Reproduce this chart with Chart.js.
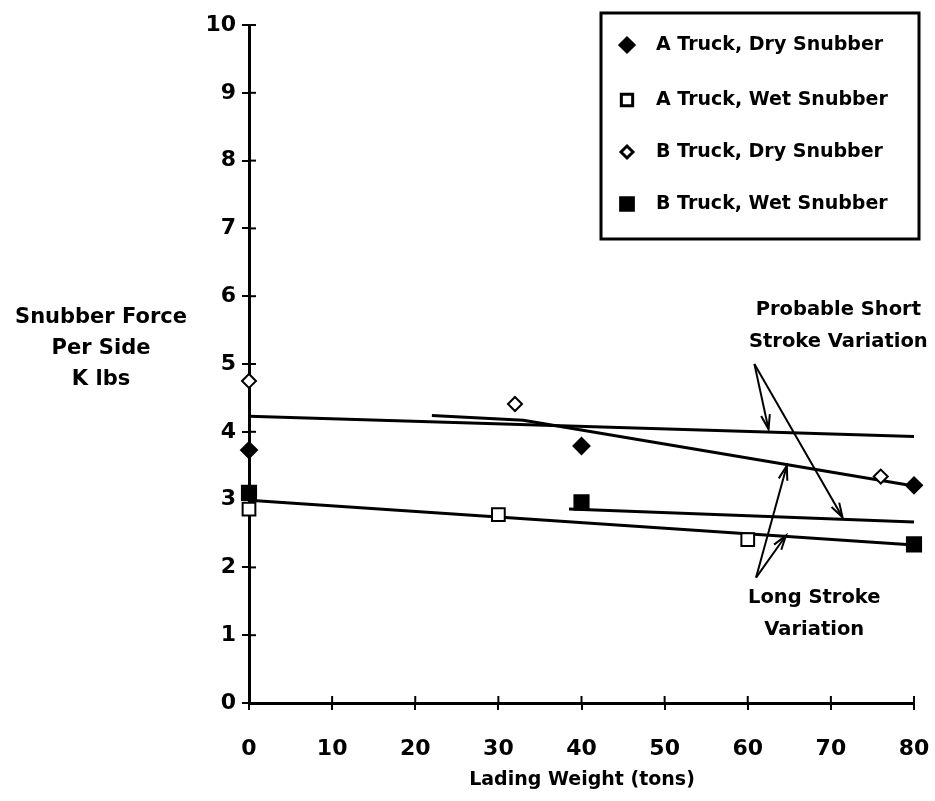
<!DOCTYPE html>
<html>
<head>
<meta charset="utf-8">
<script src="https://cdn.jsdelivr.net/npm/chart.js@4/dist/chart.umd.min.js"></script>
<style>
  body { margin: 0; background: #fff; }
  #wrap { width: 935px; height: 801px; position: relative; }
</style>
</head>
<body>
<div id="wrap"><canvas id="snubberChart"></canvas></div>
<script>
// measured points (lading weight in tons, snubber force in k lbs)
var aDryX = [0, 40, 80];
var aDryY = [3.73, 3.79, 3.21];
var aWetX = [0, 30, 60];
var aWetY = [2.86, 2.78, 2.41];
var bDryX = [0, 32, 76];
var bDryY = [4.75, 4.41, 3.34];
var bWetX = [0, 40, 80];
var bWetY = [3.1, 2.96, 2.34];

// hand fitted trend lines
var shortLine1X = [0, 80];
var shortLine1Y = [4.23, 3.93];
var shortLine2X = [22, 33, 80];
var shortLine2Y = [4.24, 4.17, 3.2];
var longLine1X = [0, 80];
var longLine1Y = [2.99, 2.33];
var longLine2X = [38.5, 80];
var longLine2Y = [2.86, 2.67];

// axis ticks
var xTicks = [0, 10, 20, 30, 40, 50, 60, 70, 80];
var yTicks = [0, 1, 2, 3, 4, 5, 6, 7, 8, 9, 10];

// callouts: [fromX, fromY, toX, toY]
var shortArrows = [[60.8, 5.0, 62.5, 4.04], [60.8, 5.0, 71.4, 2.74]];
var longArrows = [[61.0, 1.85, 64.7, 3.5], [61.0, 1.85, 64.6, 2.47]];
// callout text: [x, y, text]
var notes = [
  [70.9, 5.8, "Probable Short"],
  [70.9, 5.33, "Stroke Variation"],
  [68.0, 1.55, "Long Stroke"],
  [68.0, 1.08, "Variation"]
];

function font(size) { return "bold " + size + "px 'DejaVu Sans'"; }

function pts(xs, ys) {
  return xs.map(function (x, i) { return { x: x, y: ys[i] }; });
}

function markerSet(label, xs, ys, style, fill, r, legendR) {
  return {
    type: 'scatter',
    label: label,
    data: pts(xs, ys),
    pointStyle: style,
    pointRadius: r,
    legendRadius: legendR,
    backgroundColor: fill,
    borderColor: '#000',
    pointBorderWidth: 2,
    clip: false,
    order: 0
  };
}

function lineSet(xs, ys) {
  return {
    type: 'line',
    data: pts(xs, ys),
    showLine: true,
    pointRadius: 0,
    borderColor: '#000',
    borderWidth: 3,
    fill: false,
    clip: false,
    order: 1
  };
}

// y axis title, x axis title, callouts, inner tick halves, legend box
var extras = {
  id: 'extras',
  afterDraw: function (chart) {
    var ctx = chart.ctx;
    var xs = chart.scales.x, ys = chart.scales.y;
    var area = chart.chartArea;
    ctx.save();
    ctx.strokeStyle = '#000';
    ctx.fillStyle = '#000';

    // tick marks cross the axis
    ctx.lineWidth = 2;
    yTicks.forEach(function (v) {
      var py = ys.getPixelForValue(v);
      ctx.beginPath(); ctx.moveTo(area.left, py); ctx.lineTo(area.left + 7, py); ctx.stroke();
    });
    xTicks.forEach(function (v) {
      var px = xs.getPixelForValue(v);
      ctx.beginPath(); ctx.moveTo(px, area.bottom); ctx.lineTo(px, area.bottom - 7); ctx.stroke();
    });

    ctx.textAlign = 'center';
    ctx.textBaseline = 'middle';
    ctx.font = font(21);
    ctx.fillText('Snubber Force', 101, 318);
    ctx.fillText('Per Side', 101, 349);
    ctx.fillText('K lbs', 101, 380);
    ctx.font = font(19);
    ctx.fillText('Lading Weight (tons)', 582, 780);

    ctx.font = font(19.5);
    notes.forEach(function (n) {
      ctx.fillText(n[2], xs.getPixelForValue(n[0]), ys.getPixelForValue(n[1]));
    });

    // arrows
    ctx.lineWidth = 2;
    shortArrows.concat(longArrows).forEach(function (a) {
      var x1 = xs.getPixelForValue(a[0]), y1 = ys.getPixelForValue(a[1]);
      var x2 = xs.getPixelForValue(a[2]), y2 = ys.getPixelForValue(a[3]);
      ctx.beginPath(); ctx.moveTo(x1, y1); ctx.lineTo(x2, y2); ctx.stroke();
      var ang = Math.atan2(y2 - y1, x2 - x1);
      ctx.beginPath();
      ctx.moveTo(x2 - 15 * Math.cos(ang - 0.3), y2 - 15 * Math.sin(ang - 0.3));
      ctx.lineTo(x2, y2);
      ctx.lineTo(x2 - 15 * Math.cos(ang + 0.3), y2 - 15 * Math.sin(ang + 0.3));
      ctx.stroke();
    });

    // legend
    ctx.fillStyle = '#fff';
    ctx.fillRect(601, 13, 318, 226);
    ctx.lineWidth = 3;
    ctx.strokeRect(601, 13, 318, 226);
    var rows = [45, 100, 152, 204];
    var k = 0;
    ctx.font = font(19);
    chart.data.datasets.forEach(function (ds) {
      if (!ds.label) return;
      var y = rows[k++];
      ctx.fillStyle = ds.backgroundColor;
      ctx.strokeStyle = '#000';
      Chart.helpers.drawPoint(ctx, {
        pointStyle: ds.pointStyle, radius: ds.legendRadius,
        rotation: 0, borderWidth: 2
      }, 627, y);
      ctx.fillStyle = '#000';
      ctx.textAlign = 'left';
      ctx.fillText(ds.label, 656, y);
    });
    ctx.restore();
  }
};

var tickFont = { family: 'DejaVu Sans', size: 22, weight: 'bold' };

var ctx = document.getElementById('snubberChart');
var chart = new Chart(ctx, {
  data: {
    datasets: [
      markerSet('A Truck, Dry Snubber', aDryX, aDryY, 'rectRot', '#000', 8, 7),
      markerSet('A Truck, Wet Snubber', aWetX, aWetY, 'rect', '#fff', 9, 8),
      markerSet('B Truck, Dry Snubber', bDryX, bDryY, 'rectRot', '#fff', 7, 6),
      markerSet('B Truck, Wet Snubber', bWetX, bWetY, 'rect', '#000', 10, 9),
      lineSet(shortLine1X, shortLine1Y),
      lineSet(shortLine2X, shortLine2Y),
      lineSet(longLine1X, longLine1Y),
      lineSet(longLine2X, longLine2Y)
    ]
  },
  options: {
    responsive: true,
    maintainAspectRatio: false,
    animation: false,
    layout: { padding: { top: 25, right: 21, left: 0, bottom: 0 } },
    plugins: { legend: { display: false }, tooltip: { enabled: false } },
    scales: {
      x: {
        type: 'linear', min: 0, max: 80,
        afterFit: function (s) { s.height = 98; s.paddingLeft = 0; s.paddingRight = 0; },
        afterBuildTicks: function (s) { s.ticks = xTicks.map(function (v) { return { value: v }; }); },
        border: { color: '#000', width: 3 },
        grid: { drawOnChartArea: false, color: '#000', lineWidth: 2, tickLength: 7 },
        ticks: { color: '#000', font: tickFont, padding: 26, maxRotation: 0 }
      },
      y: {
        type: 'linear', min: 0, max: 10,
        afterFit: function (s) { s.width = 249; s.paddingTop = 0; s.paddingBottom = 0; },
        afterBuildTicks: function (s) { s.ticks = yTicks.map(function (v) { return { value: v }; }); },
        border: { color: '#000', width: 3 },
        grid: { drawOnChartArea: false, color: '#000', lineWidth: 2, tickLength: 7 },
        ticks: { color: '#000', font: tickFont, padding: 6 }
      }
    }
  },
  plugins: [extras]
});
</script>
</body>
</html>
